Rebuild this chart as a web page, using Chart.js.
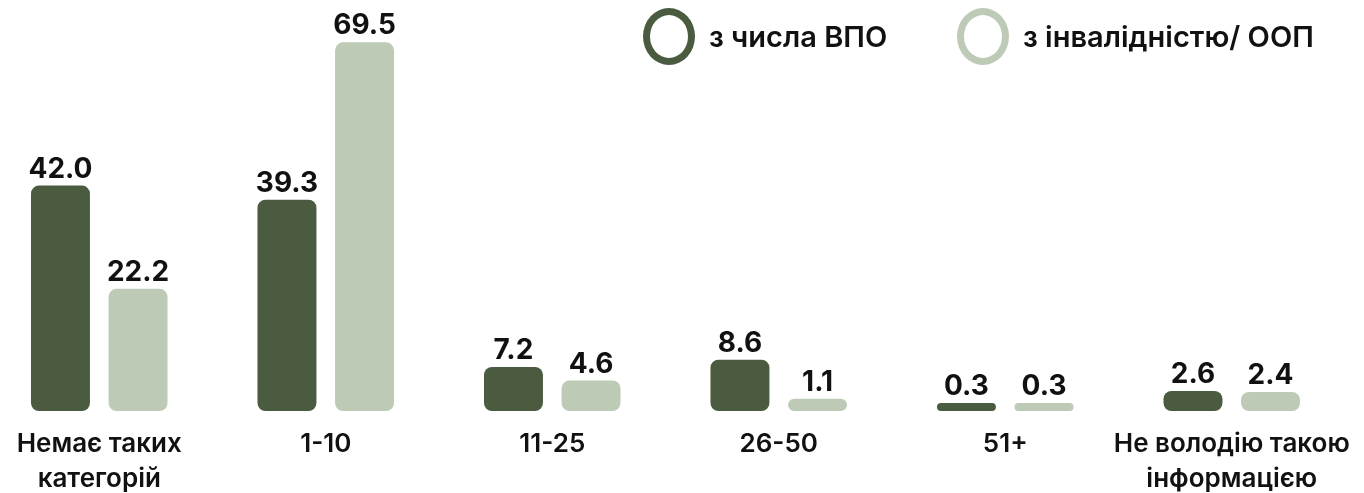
<!DOCTYPE html>
<html lang="uk">
<head>
    <meta charset="UTF-8">
    <title>Кількість категорій</title>
    <script src="https://cdn.jsdelivr.net/npm/chart.js"></script>
    <style>
        html, body {
            margin: 0;
            padding: 0;
            background: #fff;
            overflow: hidden;
            width: 1364px;
            height: 493px;
            font-family: 'Inter', 'Noto Sans', sans-serif;
        }
        #wrap {
            position: absolute;
            left: -54px;
            top: 0;
            width: 1439px;
            height: 505px;
        }
        .item {
            position: absolute;
            top: 8px;
            display: flex;
            align-items: center;
            font-weight: 600;
            font-size: 29px;
            color: #111;
            white-space: nowrap;
        }
        .ring {
            width: 38px;
            height: 43px;
            border-radius: 50%;
            border: 7px solid;
            margin-right: 14px;
        }
    </style>
</head>
<body>
    <div id="wrap"><canvas id="chart"></canvas></div>

    <script>
        const categories = [
            ['Немає таких', 'категорій'],
            '1-10',
            '11-25',
            '26-50',
            '51+',
            ['Не володію такою', 'інформацією']
        ];
        const seriesNames = ['з числа ВПО', 'з інвалідністю/ ООП'];
        const vpoValues = [42.0, 39.3, 7.2, 8.6, 0.3, 2.6];
        const disabilityValues = [22.2, 69.5, 4.6, 1.1, 0.3, 2.4];
        const colors = ['#4a5b3f', '#bdcab6'];

        // bars start a bit below zero so tiny values stay visible
        const yMin = -1.25;
        const yMax = 75.7;

        const valueLabels = {
            id: 'valueLabels',
            afterDatasetsDraw(chart) {
                const ctx = chart.ctx;
                ctx.save();
                ctx.font = '700 28px Inter, sans-serif';
                ctx.fillStyle = '#111';
                ctx.textAlign = 'center';
                ctx.textBaseline = 'alphabetic';
                chart.data.datasets.forEach((ds, i) => {
                    chart.getDatasetMeta(i).data.forEach((bar, j) => {
                        ctx.fillText(ds.data[j].toFixed(1), bar.x, bar.y - 8);
                    });
                });
                ctx.restore();
            }
        };

        new Chart(document.getElementById('chart'), {
            type: 'bar',
            data: {
                labels: categories,
                datasets: [
                    {
                        label: seriesNames[0],
                        data: vpoValues,
                        backgroundColor: colors[0],
                        borderRadius: 8,
                        borderSkipped: false,
                        base: yMin,
                        categoryPercentage: 0.685,
                        barPercentage: 0.76
                    },
                    {
                        label: seriesNames[1],
                        data: disabilityValues,
                        backgroundColor: colors[1],
                        borderRadius: 8,
                        borderSkipped: false,
                        base: yMin,
                        categoryPercentage: 0.685,
                        barPercentage: 0.76
                    }
                ]
            },
            options: {
                responsive: true,
                maintainAspectRatio: false,
                animation: false,
                layout: {
                    padding: { top: 10, left: 40, right: 40, bottom: 0 }
                },
                plugins: {
                    legend: { display: false },
                    tooltip: { enabled: false }
                },
                scales: {
                    x: {
                        grid: { display: false },
                        border: { display: false },
                        ticks: {
                            color: '#111',
                            padding: 8,
                            maxRotation: 0,
                            autoSkip: false,
                            font: { family: 'Inter', size: 26, weight: '600', lineHeight: '35px' }
                        }
                    },
                    y: {
                        display: false,
                        min: yMin,
                        max: yMax
                    }
                }
            },
            plugins: [valueLabels]
        });

        // legend drawn as html, rings like in the original
        const legendLeft = [643, 957];
        seriesNames.forEach((name, i) => {
            const item = document.createElement('div');
            item.className = 'item';
            item.style.left = legendLeft[i] + 'px';
            const ring = document.createElement('div');
            ring.className = 'ring';
            ring.style.borderColor = colors[i];
            const text = document.createElement('span');
            text.textContent = name;
            item.appendChild(ring);
            item.appendChild(text);
            document.body.appendChild(item);
        });
    </script>
</body>
</html>
